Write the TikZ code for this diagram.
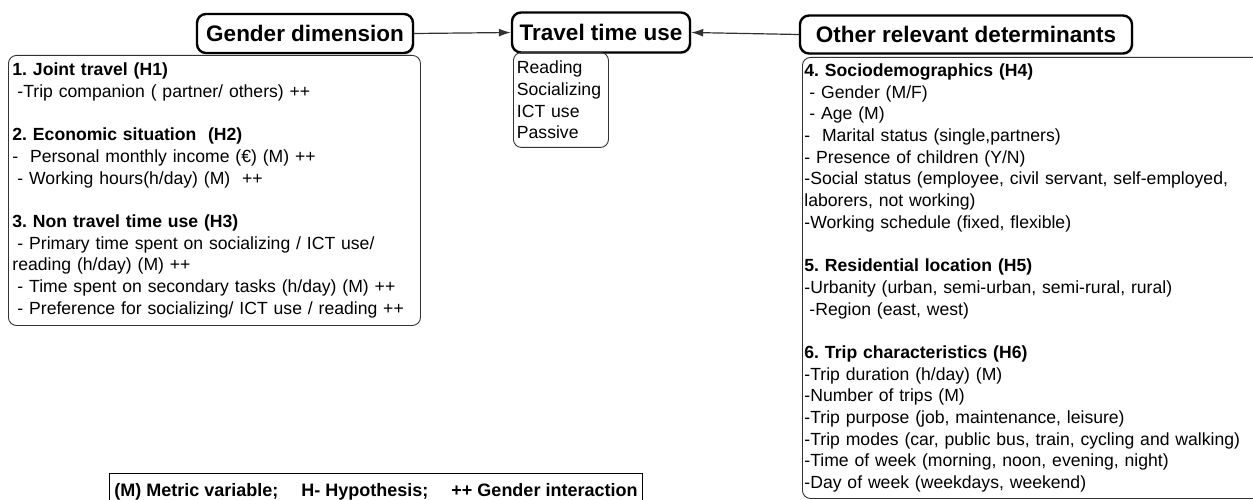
\documentclass[tikz,border=0pt]{standalone}
\usepackage{fontspec}
\setmainfont{Liberation Sans}
\usetikzlibrary{arrows.meta,positioning,shadows}
\definecolor{framegray}{RGB}{50,50,50}
\newcommand{\lsp}{\hspace*{5pt}}
\tikzset{
    header/.style={rectangle, draw, line width=2.4pt, rounded corners=9pt, fill=white, inner sep=0pt, font=\fontsize{22.5}{26}\selectfont\bfseries, drop shadow={shadow xshift=1.5pt, shadow yshift=-1.5pt, opacity=0.2}},
    listbox/.style={rectangle, draw=framegray, line width=0.9pt, rounded corners=8pt, align=left, inner ysep=0pt, font=\fontsize{17.6}{21.7}\selectfont\frenchspacing},
    legendbox/.style={rectangle, draw, line width=0.9pt, inner ysep=0pt, font=\fontsize{18}{21.7}\selectfont\bfseries\frenchspacing},
    line/.style={draw=framegray, line width=1.2pt, -{Latex[length=12pt,width=8pt]}}
}

\begin{document}
\begin{tikzpicture}[x=1pt, y=-1pt]
    \useasboundingbox (0,0) rectangle (1253,500);

    % Headers
    \node [header, minimum width=216pt, minimum height=39pt] (gender) at (305,33.5) {Gender dimension};
    \node [header, minimum width=178pt, minimum height=40pt] (travel) at (601,32.5) {Travel time use};
    \node [header, minimum width=332pt, minimum height=38pt] (other) at (966,34.5) {Other relevant determinants};

    % Lists under the headers
    \node [listbox, anchor=north west, text width=404pt, inner xsep=4pt, minimum height=270pt] (genderlist) at (8,55) {%
        \textbf{1. Joint travel (H1)}\\
        \lsp-Trip companion ( partner/ others) ++\\[21.7pt]
        \textbf{2. Economic situation\ \ (H2)}\\
        -\ \ Personal monthly income (€) (M) ++\\
        \lsp- Working hours(h/day) (M)\ \ ++\\[21.7pt]
        \textbf{3. Non travel time use (H3)}\\
        \lsp- Primary time spent on socializing / ICT use/\\
        reading (h/day) (M) ++\\
        \lsp- Time spent on secondary tasks (h/day) (M) ++\\
        \lsp- Preference for socializing/ ICT use / reading ++};
    \node [listbox, anchor=north west, text width=88pt, inner xsep=3.5pt, minimum height=95pt] (travellist) at (513,52) {%
        Reading\\Socializing\\ICT use\\Passive};
    \node [listbox, anchor=north west, text width=466pt, inner xsep=2pt, minimum height=441pt] (otherlist) at (802,57) {%
        \textbf{4. Sociodemographics (H4)}\\
        \lsp- Gender (M/F)\\
        \lsp- Age (M)\\
        -\ \ Marital status (single,partners)\\
        - Presence of children (Y/N)\\
        -Social status (employee, civil servant, self-employed,\\
        laborers, not working)\\
        -Working schedule (fixed, flexible)\\[21.7pt]
        \textbf{5. Residential location (H5)}\\
        -Urbanity (urban, semi-urban, semi-rural, rural)\\
        \lsp-Region (east, west)\\[21.7pt]
        \textbf{6. Trip characteristics (H6)}\\
        -Trip duration (h/day) (M)\\
        -Number of trips (M)\\
        -Trip purpose (job, maintenance, leisure)\\
        -Trip modes (car, public bus, train, cycling and walking)\\
        -Time of week (morning, noon, evening, night)\\
        -Day of week (weekdays, weekend)};

    % Connections
    \path [line] (gender.east) -- (travel.west);
    \path [line] (other.west) -- (travel.east);

    % Legend
    \node [legendbox, anchor=east, minimum height=38pt, inner xsep=5pt] (legend) at (643,492) {(M) Metric variable;\hspace{23pt}H- Hypothesis;\hspace{23pt}++ Gender interaction};
\end{tikzpicture}
\end{document}
